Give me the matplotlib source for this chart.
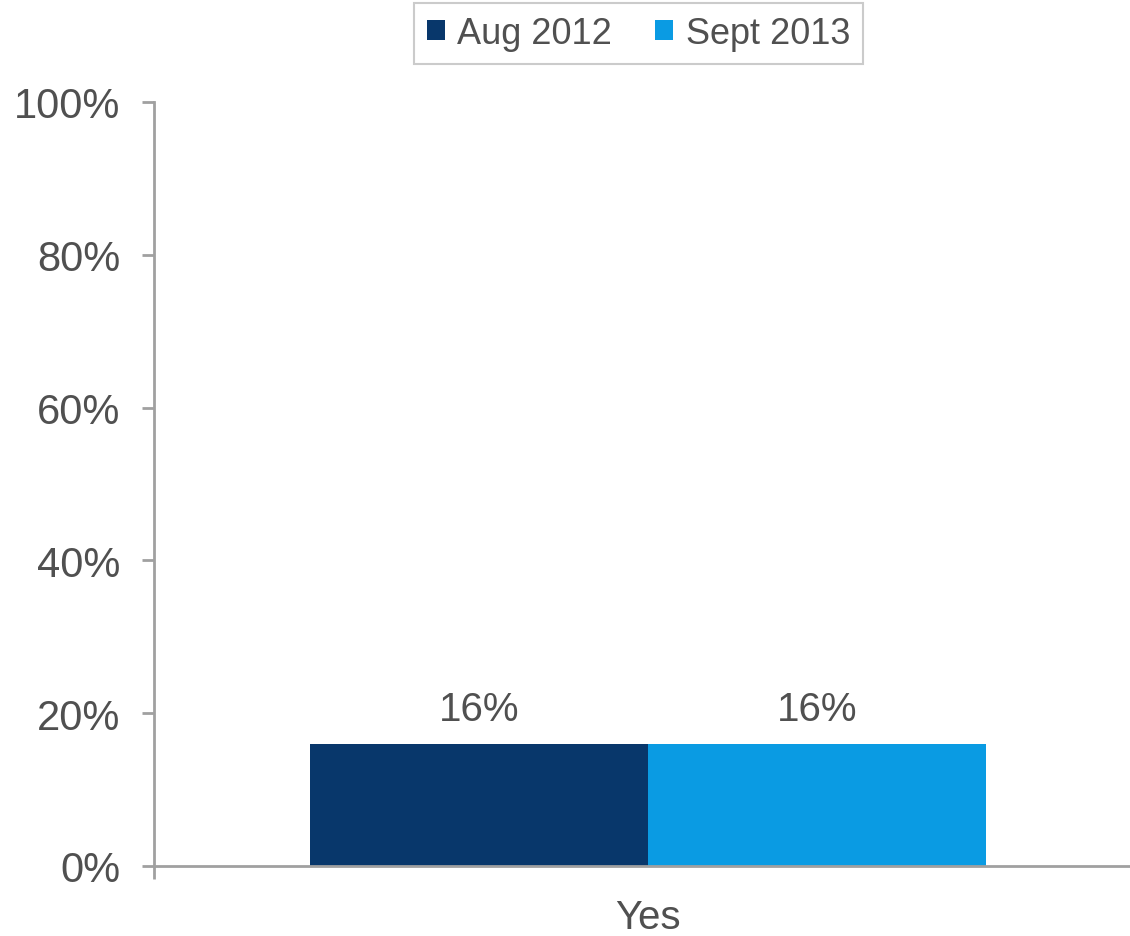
import matplotlib
matplotlib.use("Agg")
import matplotlib.pyplot as plt
from matplotlib.patches import Patch
from matplotlib.ticker import PercentFormatter

categories = ["Yes"]
series_names = ["Aug 2012", "Sept 2013"]
aug_2012 = [16]
sept_2013 = [16]
colors = ["#08376B", "#0A9BE3"]
yticks = [0, 20, 40, 60, 80, 100]

plt.rcParams['font.family'] = ['Liberation Sans', 'DejaVu Sans']
text_color = "#505050"
axis_color = "#A0A0A0"

fig = plt.figure(figsize=(11.30, 9.37), dpi=100)
W, H = 1130, 937
left, right, bottom, top = 154, 1142, 867, 103
ax = fig.add_axes([left / W, 1 - bottom / H, (right - left) / W, (bottom - top) / H])

bw = 0.342
x = list(range(len(categories)))
for i, (vals, name) in enumerate(zip([aug_2012, sept_2013], series_names)):
    off = (i - 0.5) * bw
    bars = ax.bar([xi + off for xi in x], vals, width=bw, color=colors[i], label=name)
    for b, v in zip(bars, vals):
        ax.text(b.get_x() + b.get_width() / 2, v + 2.0, f"{v}%", ha="center", va="bottom",
                fontsize=29, color=text_color)

ax.set_xlim(-0.5, len(categories) - 0.5)
ax.set_ylim(0, 100)
ax.set_yticks(yticks)
ax.yaxis.set_major_formatter(PercentFormatter(decimals=0))
ax.set_xticks([-0.5])
ax.set_xticklabels([""])
ax.tick_params(axis="y", labelsize=30, labelcolor=text_color, color=axis_color,
               length=9, width=2, pad=15, direction="out")
ax.tick_params(axis="x", color=axis_color, length=9, width=2)
for xi, c in zip(x, categories):
    ax.text(xi, -4.2, c, ha="center", va="top", fontsize=29, color=text_color,
            transform=ax.transData)

for s in ["top", "right"]:
    ax.spines[s].set_visible(False)
for s in ["left", "bottom"]:
    ax.spines[s].set_color(axis_color)
    ax.spines[s].set_linewidth(2)
ax.patch.set_alpha(0)

handles = [Patch(facecolor=c, label=n) for c, n in zip(colors, series_names)]
leg = fig.legend(handles=handles, loc="center", bbox_to_anchor=(638.5 / W, 1 - 34.5 / H),
                 ncol=2, fontsize=26, frameon=True, fancybox=False, handlelength=0.5,
                 handleheight=0.5, handletextpad=0.35, columnspacing=1.2,
                 borderpad=0.35, borderaxespad=0, labelcolor=text_color)
leg.get_frame().set_edgecolor("#BFBFBF")
leg.get_frame().set_linewidth(1.5)

fig.savefig("out.png", dpi=100)
